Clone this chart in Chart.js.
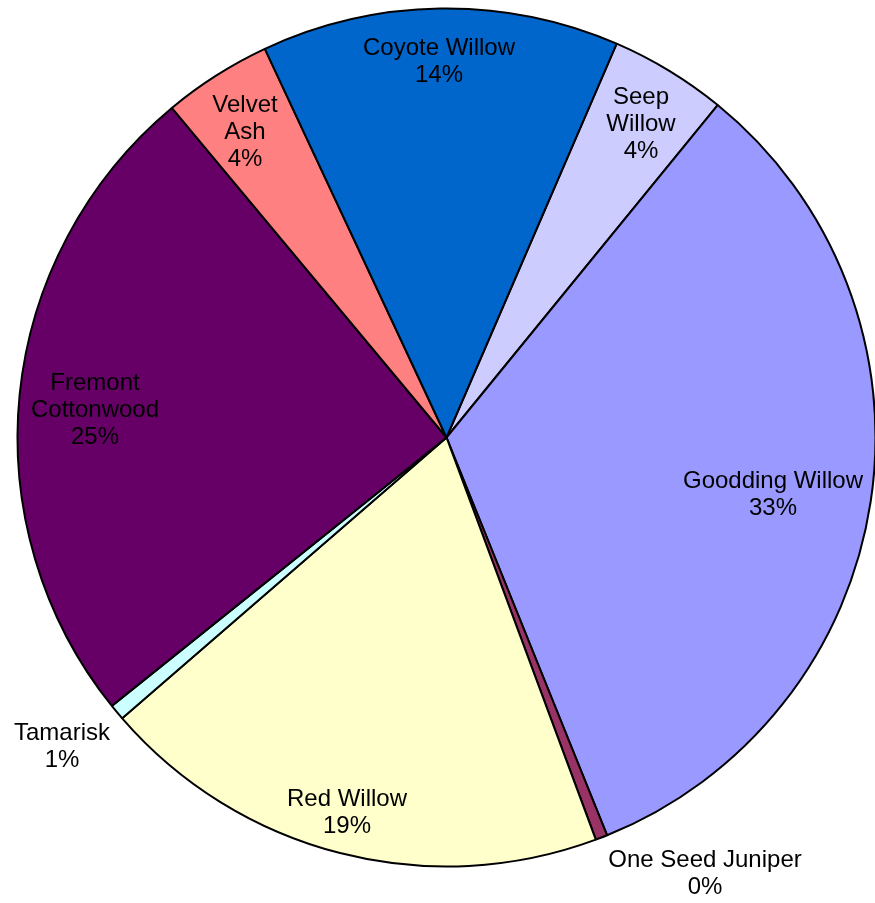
<!DOCTYPE html>
<html>
<head>
<meta charset="utf-8">
<script src="https://cdn.jsdelivr.net/npm/chart.js@4.4.1/dist/chart.umd.min.js"></script>
<style>
  html, body { margin: 0; padding: 0; background: #fff; }
  canvas { display: block; }
</style>
</head>
<body>
<canvas id="pieChart" width="875" height="903"></canvas>
<script>
// Especies, en el orden de las manecillas del reloj
const species = ['Seep Willow', 'Goodding Willow', 'One Seed Juniper', 'Red Willow', 'Tamarisk', 'Fremont Cottonwood', 'Velvet Ash', 'Coyote Willow'];
// Lineas de las etiquetas tal como aparecen
const labelLines = [['Seep', 'Willow'], ['Goodding Willow'], ['One Seed Juniper'], ['Red Willow'], ['Tamarisk'], ['Fremont', 'Cottonwood'], ['Velvet', 'Ash'], ['Coyote Willow']];
// Porcentaje de cada especie
const shares = [4.4, 33.0, 0.45, 19.3, 0.6, 24.7, 4.1, 13.45];
const pctLabels = ['4%', '33%', '0%', '19%', '1%', '25%', '4%', '14%'];
const colors = ['#CCCCFF', '#9999FF', '#993366', '#FFFFCC', '#CCFFFF', '#660066', '#FF8080', '#0066CC'];
// Posicion de la primera linea de cada etiqueta (x centro, y base)
const labelPos = [[641, 104], [773, 488], [705, 867], [347, 806], [62, 740], [95, 390], [245, 112], [439, 55]];

const labelsPlugin = {
    id: 'sliceLabels',
    afterDraw(chart) {
        const ctx = chart.ctx;
        ctx.save();
        ctx.font = '24px "Liberation Sans", Arial, sans-serif';
        ctx.fillStyle = '#000';
        ctx.textAlign = 'center';
        ctx.textBaseline = 'alphabetic';
        labelLines.forEach(function(lines, i) {
            const all = lines.concat([pctLabels[i]]);
            all.forEach(function(t, j) {
                ctx.fillText(t, labelPos[i][0], labelPos[i][1] + j * 27);
            });
        });
        ctx.restore();
    }
};

const ctx = document.getElementById('pieChart').getContext('2d');
new Chart(ctx, {
    type: 'pie',
    data: {
        labels: species,
        datasets: [{
            data: shares,
            backgroundColor: colors,
            borderColor: '#000',
            borderWidth: 2,
            clip: false
        }]
    },
    options: {
        responsive: false,
        animation: false,
        rotation: 23.37,
        radius: 429,
        layout: {
            padding: { left: 18, right: 0, top: 0, bottom: 28 }
        },
        plugins: {
            legend: { display: false },
            tooltip: { enabled: false }
        }
    },
    plugins: [labelsPlugin]
});
</script>
</body>
</html>
